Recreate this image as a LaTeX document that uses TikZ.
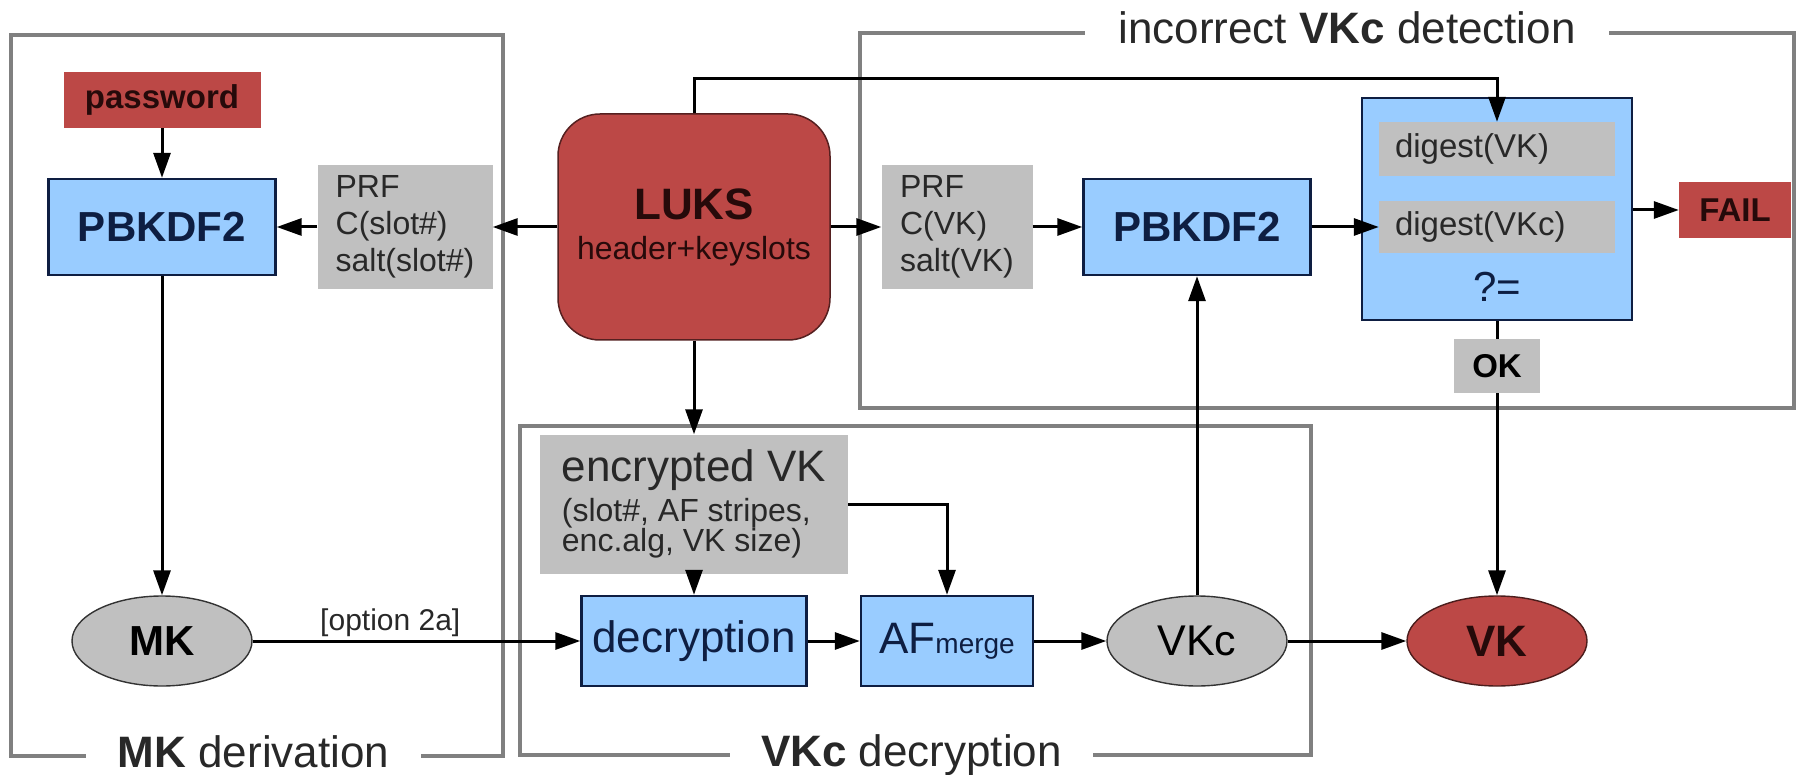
\documentclass[tikz,border=0pt]{standalone}
\usepackage{fontspec}
\setmainfont{Liberation Sans}
\usetikzlibrary{arrows.meta,shapes.geometric}

\definecolor{keyred}{RGB}{188,72,70}
\definecolor{keyink}{RGB}{38,10,10}
\definecolor{procblue}{RGB}{153,204,255}
\definecolor{procink}{RGB}{14,30,66}
\definecolor{parmgray}{RGB}{192,192,192}
\definecolor{parmink}{RGB}{40,40,40}
\definecolor{framegray}{RGB}{128,128,128}

\newcommand\fsz[2]{\fontsize{#1}{#2}\selectfont}

\begin{document}
\begin{tikzpicture}[x=1pt,y=-1pt,
  grpframe/.style={draw=framegray, line width=3.2pt},
  grptitle/.style={inner sep=0pt, text=parmink, font=\fsz{44}{48},
                   text height=31pt, text depth=9pt},
  flow/.style={draw=black, line width=3pt, -{Triangle[length=25pt,width=17pt]}},
  link/.style={draw=black, line width=3pt},
  proc/.style={rectangle, fill=procblue, draw=procink, line width=2.4pt,
               inner sep=0pt, text=procink},
  parm/.style={rectangle, fill=parmgray, inner sep=0pt, text=parmink, align=left},
  keybox/.style={rectangle, fill=keyred, inner sep=0pt, text=keyink},
  ellip/.style={ellipse, draw=black!80, line width=1.4pt, inner sep=0pt,
                minimum width=180pt, minimum height=90pt}]

\useasboundingbox (0,0) rectangle (1804,775);

% ---------- group titles ----------
\node[grptitle, minimum width=335pt] (tMK)  at (253.5,756) {\textbf{MK} derivation};
\node[grptitle, minimum width=363pt] (tDec) at (911.5,755) {\textbf{VKc} decryption};
\node[grptitle, minimum width=524pt] (tDet) at (1347,33)  {incorrect \textbf{VKc} detection};

% ---------- group frames ----------
\draw[grpframe] (tMK.west) -- (11,756) -- (11,35) -- (503,35) -- (503,756) -- (tMK.east);
\draw[grpframe] (tDec.west) -- (520,755) -- (520,426) -- (1311,426) -- (1311,755) -- (tDec.east);
\draw[grpframe] (tDet.west) -- (860,33) -- (860,408) -- (1794,408) -- (1794,33) -- (tDet.east);

% ---------- MK derivation ----------
\node[keybox, minimum width=197pt, minimum height=56pt, font=\bfseries\fsz{33}{36}] (pw) at (162,100) {password};
\node[proc, minimum width=227pt, minimum height=96pt, font=\bfseries\fsz{42}{46}] (kdfL) at (162,227) {PBKDF2};
\node[parm, minimum width=175pt, minimum height=124pt, font=\fsz{32}{37}] (prfL) at (405,227) {PRF\\C(slot\#)\\salt(slot\#)};
\node[ellip, fill=parmgray, text=black, font=\bfseries\fsz{42}{46}] (mk) at (162,641) {MK};

% ---------- LUKS header ----------
\node[keybox, draw=black!55!keyred, line width=1.5pt, rounded corners=42pt,
      minimum width=272pt, minimum height=226pt, align=center, font=\fsz{32}{40}] (luks) at (694,227)
      {{\fsz{44}{40}\bfseries LUKS}\\header+keyslots};

% ---------- incorrect VKc detection ----------
\node[parm, minimum width=151pt, minimum height=124pt, font=\fsz{32}{37}] (prfR) at (957,227) {PRF\\C(VK)\\salt(VK)};
\node[proc, minimum width=227pt, minimum height=96pt, font=\bfseries\fsz{42}{46}] (kdfR) at (1197,227) {PBKDF2};
\node[proc, minimum width=270pt, minimum height=222pt] (cmp) at (1497,209) {};
\node[parm, inner xsep=16pt, text width=204pt, minimum height=54pt, font=\fsz{33}{36}] (dgVK) at (1497,149) {digest(VK)};
\node[parm, inner xsep=16pt, text width=204pt, minimum height=52pt, font=\fsz{33}{36}] (dgVKc) at (1497,227) {digest(VKc)};
\node[text=procink, inner sep=0pt, font=\fsz{42}{46}] (eq) at (1497,287) {?=};
\node[keybox, minimum width=112pt, minimum height=56pt, font=\bfseries\fsz{33}{36}] (fail) at (1735,210) {FAIL};
\node[parm, text=black, minimum width=86pt, minimum height=54pt, font=\bfseries\fsz{33}{36}] (ok) at (1497,366) {OK};

% ---------- VKc decryption ----------
\node[parm, minimum width=308pt, minimum height=139pt, font=\fsz{32}{30}] (enc) at (694,504)
      {{\fsz{44}{44}encrypted VK}\\[7pt](slot\#, AF stripes,\\enc.alg, VK size)};
\node[proc, minimum width=225pt, minimum height=90pt, font=\fsz{44}{48}] (dec) at (694,641) {decryption};
\node[proc, minimum width=172pt, minimum height=90pt, font=\fsz{44}{48}] (afm) at (947,641) {AF{\fsz{28}{30}merge}};
\node[ellip, fill=parmgray, text=black, font=\fsz{43}{46}] (vkc) at (1197,641) {VKc};
\node[ellip, fill=keyred, draw=black!60!keyred, text=keyink, font=\bfseries\fsz{44}{46}] (vk) at (1497,641) {VK};

% ---------- connectors ----------
\draw[flow] (pw) -- (kdfL);
\draw[flow] (kdfL) -- (mk);
\draw[flow] (luks) -- (prfL);
\draw[flow] (prfL) -- (kdfL);
\draw[flow] (luks) -- (prfR);
\draw[flow] (prfR) -- (kdfR);
\draw[flow] (kdfR) -- (dgVKc.west);
\draw[flow] (luks.north) -- ++(0,-35) -| (dgVK.north);
\draw[flow] (cmp.east |- fail.west) -- (fail.west);
\draw[link] (cmp) -- (ok);
\draw[flow] (ok) -- (vk);
\draw[flow] (luks) -- (enc);
\draw[flow] (enc) -- (dec);
\draw[flow] (enc.east) -| (afm.north);
\draw[flow] (mk) -- (dec)
  node[pos=0.42, above=3pt, inner sep=0pt, text=parmink, font=\fsz{30}{32}] (opt) {[option 2a]};
\draw[flow] (dec) -- (afm);
\draw[flow] (afm) -- (vkc);
\draw[flow] (vkc) -- (vk);
\draw[flow] (vkc) -- (kdfR);

\end{tikzpicture}
\end{document}
